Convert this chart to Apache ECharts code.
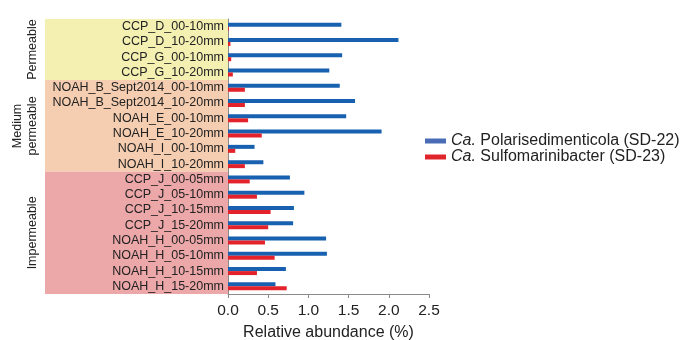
<!DOCTYPE html>
<html>
<head>
<meta charset="utf-8">
<script src="https://cdn.jsdelivr.net/npm/echarts@6/dist/echarts.min.js"></script>
<style>
html,body{margin:0;padding:0;background:#fff;}
#chart{width:687px;height:340px;}
</style>
</head>
<body>
<div id="chart"></div>
<script>
// Sample names, top to bottom
const samples = [
  'CCP_D_00-10mm', 'CCP_D_10-20mm', 'CCP_G_00-10mm', 'CCP_G_10-20mm',
  'NOAH_B_Sept2014_00-10mm', 'NOAH_B_Sept2014_10-20mm', 'NOAH_E_00-10mm', 'NOAH_E_10-20mm',
  'NOAH_I_00-10mm', 'NOAH_I_10-20mm',
  'CCP_J_00-05mm', 'CCP_J_05-10mm', 'CCP_J_10-15mm', 'CCP_J_15-20mm',
  'NOAH_H_00-05mm', 'NOAH_H_05-10mm', 'NOAH_H_10-15mm', 'NOAH_H_15-20mm'
];
// Relative abundance (%)
const sd22 = [1.41, 2.12, 1.42, 1.26, 1.39, 1.58, 1.47, 1.91, 0.33, 0.44,
              0.77, 0.95, 0.82, 0.81, 1.22, 1.23, 0.72, 0.59];
const sd23 = [0.01, 0.03, 0.04, 0.06, 0.21, 0.21, 0.25, 0.42, 0.09, 0.21,
              0.27, 0.36, 0.53, 0.50, 0.46, 0.58, 0.36, 0.73];
const seriesNames = ['Ca. Polarisedimenticola (SD-22)', 'Ca. Sulfomarinibacter (SD-23)'];
// Permeability groups: label lines, first and last sample index
const groupLabels = [['Permeable'], ['Medium', 'permeable'], ['Impermeable']];
const groupRanges = [[0, 3], [4, 9], [10, 17]];
const xTicks = [0, 0.5, 1.0, 1.5, 2.0, 2.5];

const groupColors = ['#f4f0b2', '#f5cdb0', '#eca7a9'];
const font = '"Liberation Sans", Arial, sans-serif';

const chart = echarts.init(document.getElementById('chart'));
chart.setOption({
  animation: false,
  grid: { left: 228, right: 258, top: 19, bottom: 46, containLabel: false, outerBoundsMode: 'none' },
  legend: {
    orient: 'vertical',
    left: 420,
    top: 128,
    itemWidth: 21,
    itemHeight: 5,
    itemGap: 0,
    icon: 'rect',
    data: [
      { name: seriesNames[0], itemStyle: { color: '#4a6cb6' } },
      { name: seriesNames[1], itemStyle: { color: '#e0242c' } }
    ],
    formatter: function (name) {
      const rest = name.slice(3);
      return '{i|Ca.}' + rest;
    },
    textStyle: {
      fontFamily: font, fontSize: 16, color: '#222', lineHeight: 16,
      rich: { i: { fontStyle: 'italic', fontFamily: font, fontSize: 16, color: '#222', lineHeight: 16 } }
    }
  },
  xAxis: {
    type: 'value',
    min: xTicks[0],
    max: xTicks[xTicks.length - 1],
    interval: 0.5,
    splitLine: { show: false },
    axisLine: { show: true, lineStyle: { color: '#8a8a8a', width: 1 } },
    axisTick: { show: true, length: 4, lineStyle: { color: '#8a8a8a' } },
    axisLabel: {
      margin: 9, fontFamily: font, fontSize: 15.5, color: '#222',
      formatter: v => v.toFixed(1)
    },
    name: 'Relative abundance (%)',
    nameLocation: 'middle',
    nameGap: 31,
    nameTextStyle: { fontFamily: font, fontSize: 16, color: '#222' }
  },
  yAxis: {
    type: 'category',
    data: samples,
    inverse: true,
    axisLine: { show: true, lineStyle: { color: '#8a8a8a', width: 1 } },
    axisTick: { show: false },
    axisLabel: { interval: 0, margin: 4, fontFamily: font, fontSize: 12.5, color: '#222' }
  },
  series: [
    {
      name: seriesNames[0], type: 'bar', data: sd22,
      barWidth: 4, barGap: '0%',
      itemStyle: { color: '#1761b0' }
    },
    {
      name: seriesNames[1], type: 'bar', data: sd23,
      barWidth: 4, barGap: '0%',
      itemStyle: { color: '#e3222b' }
    }
  ]
});

// Group background bands and rotated group labels, placed from the category scale
function drawGroups() {
  const y0 = chart.convertToPixel({ yAxisIndex: 0 }, 0);
  const y1 = chart.convertToPixel({ yAxisIndex: 0 }, 1);
  const step = y1 - y0;
  const xAxisStart = chart.convertToPixel({ xAxisIndex: 0 }, 0);
  const elements = [];
  groupRanges.forEach(function (r, i) {
    const top = chart.convertToPixel({ yAxisIndex: 0 }, r[0]) - step / 2;
    const bottom = chart.convertToPixel({ yAxisIndex: 0 }, r[1]) + step / 2;
    elements.push({
      type: 'rect', z: -10, silent: true,
      shape: { x: 45, y: top, width: xAxisStart - 45, height: bottom - top },
      style: { fill: groupColors[i] }
    });
    const lines = groupLabels[i];
    const mid = (top + bottom) / 2;
    lines.forEach(function (line, j) {
      const xc = 33 - (lines.length - 1 - j) * 15.5;
      elements.push({
        type: 'text', silent: true,
        x: xc, y: mid, rotation: Math.PI / 2,
        style: {
          text: line, fontFamily: font, fontSize: 12.5, fill: '#222',
          align: 'center', verticalAlign: 'middle'
        }
      });
    });
  });
  chart.setOption({ graphic: { elements: elements } });
}
drawGroups();
</script>
</body>
</html>
